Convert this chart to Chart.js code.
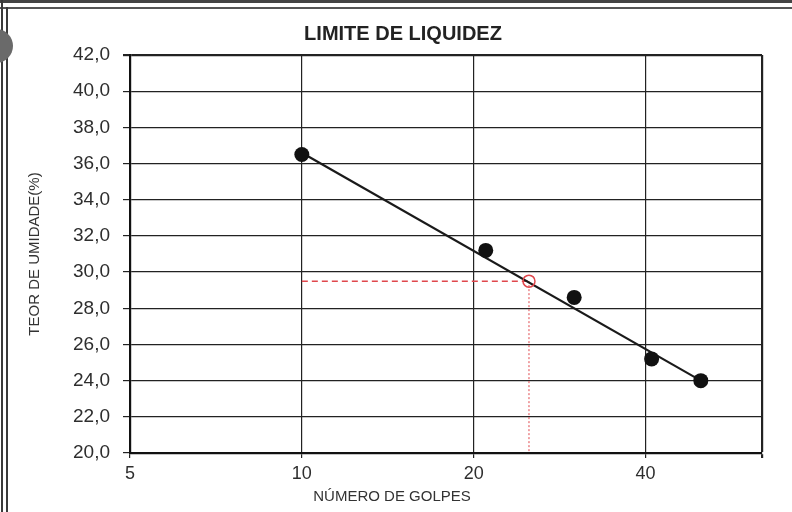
<!DOCTYPE html>
<html><head><meta charset="utf-8">
<script src="https://cdn.jsdelivr.net/npm/chart.js@4/dist/chart.umd.min.js"></script>
<style>
html,body{margin:0;padding:0;background:#fff;}
#wrap{position:relative;width:792px;height:512px;overflow:hidden;background:#fff;}
canvas{position:absolute;left:0;top:0;}
.fr{position:absolute;background:#3a3a3a;}
</style></head><body>
<div id="wrap">
<canvas id="c" width="792" height="512"></canvas>
<div class="fr" style="left:0;top:0;width:792px;height:3px;background:#444"></div>
<div class="fr" style="left:0;top:7px;width:792px;height:2px;background:#555"></div>
<div class="fr" style="left:1px;top:0;width:2px;height:512px"></div>
<div class="fr" style="left:6px;top:7px;width:2px;height:505px"></div>
<div style="position:absolute;left:-21px;top:29px;width:34px;height:34px;border-radius:50%;background:#6a6a6a"></div>
</div>
<script>
// ---- data ----
const golpes = [10, 21, 30, 41, 50];
const umidade = [36.5, 31.2, 28.6, 25.2, 24.0];
const trendGolpes = [10, 50];
const trendUmidade = [36.6, 24.0];
const llGolpes = 25;
const llUmidade = 29.5;
const guideStartGolpes = 10;
const xTickValues = [5, 10, 20, 40];
const xMin = 5, xMax = 64;
const yMin = 20, yMax = 42, yStep = 2;

const FONT = "'Liberation Sans', Arial, sans-serif";

const pts = golpes.map((g, i) => ({x: g, y: umidade[i]}));
const trend = trendGolpes.map((g, i) => ({x: g, y: trendUmidade[i]}));
const hGuide = [{x: guideStartGolpes, y: llUmidade}, {x: llGolpes, y: llUmidade}];
const vGuide = [{x: llGolpes, y: llUmidade}, {x: llGolpes, y: yMin}];

const axisTitles = {
  id: 'axisTitles',
  afterDraw(chart) {
    const ctx = chart.ctx;
    ctx.save();
    ctx.fillStyle = '#333';
    ctx.font = "15px " + FONT;
    ctx.textAlign = 'center';
    ctx.textBaseline = 'middle';
    ctx.fillText('NÚMERO DE GOLPES', 392, 497);
    ctx.translate(35, 254);
    ctx.rotate(-Math.PI / 2);
    ctx.fillText('TEOR DE UMIDADE(%)', 0, 0);
    ctx.restore();
  }
};

new Chart(document.getElementById('c'), {
  type: 'scatter',
  data: {
    datasets: [
      {data: hGuide, showLine: true, borderColor: '#e0474c', borderWidth: 1.5, borderDash: [6, 4], pointRadius: 0, order: 5},
      {data: vGuide, showLine: true, borderColor: '#e0474c', borderWidth: 1, borderDash: [2, 2], pointRadius: 0, order: 5},
      {data: trend, showLine: true, borderColor: '#1a1a1a', borderWidth: 2.2, pointRadius: 0, order: 3},
      {data: pts, pointRadius: 7.5, pointBackgroundColor: '#111', pointBorderColor: '#111', borderWidth: 0, order: 2},
      {data: [{x: llGolpes, y: llUmidade}], pointRadius: 6, pointBackgroundColor: 'rgba(0,0,0,0)', pointBorderColor: '#e0474c', pointBorderWidth: 1.5, order: 1}
    ]
  },
  options: {
    responsive: false,
    animation: false,
    devicePixelRatio: 1,
    layout: {padding: {left: 44, right: 30, top: 0, bottom: 0}},
    plugins: {
      legend: {display: false},
      tooltip: {enabled: false},
      title: {
        display: true, text: 'LIMITE DE LIQUIDEZ', color: '#222',
        font: {family: FONT, size: 20, weight: 'bold'},
        padding: {top: 22, bottom: 9}
      }
    },
    scales: {
      x: {
        type: 'logarithmic', min: xMin, max: xMax,
        afterFit: s => { s.height = 59; },
        afterBuildTicks: s => { s.ticks = [...xTickValues, xMax].map(v => ({value: v})); },
        ticks: {
          autoSkip: false, maxRotation: 0, color: '#2e2e2e', padding: 5,
          font: {family: FONT, size: 18},
          callback: v => xTickValues.includes(v) ? String(v) : ''
        },
        grid: {
          color: '#222', tickColor: '#222', tickLength: 5,
          lineWidth: c => (c.tick && c.tick.value === xMax) ? 2.2 : 1.2
        },
        border: {color: '#111', width: 2.2}
      },
      y: {
        min: yMin, max: yMax,
        afterFit: s => { s.width = 86; },
        ticks: {
          stepSize: yStep, color: '#2e2e2e', padding: 13,
          font: {family: FONT, size: 19},
          callback: v => Number(v).toFixed(1).replace('.', ',')
        },
        grid: {
          color: '#222', tickColor: '#222', tickLength: 7,
          lineWidth: c => (c.tick && c.tick.value === yMax) ? 2.2 : 1.2
        },
        border: {color: '#111', width: 2.2}
      }
    }
  },
  plugins: [axisTitles]
});
</script>
</body></html>
